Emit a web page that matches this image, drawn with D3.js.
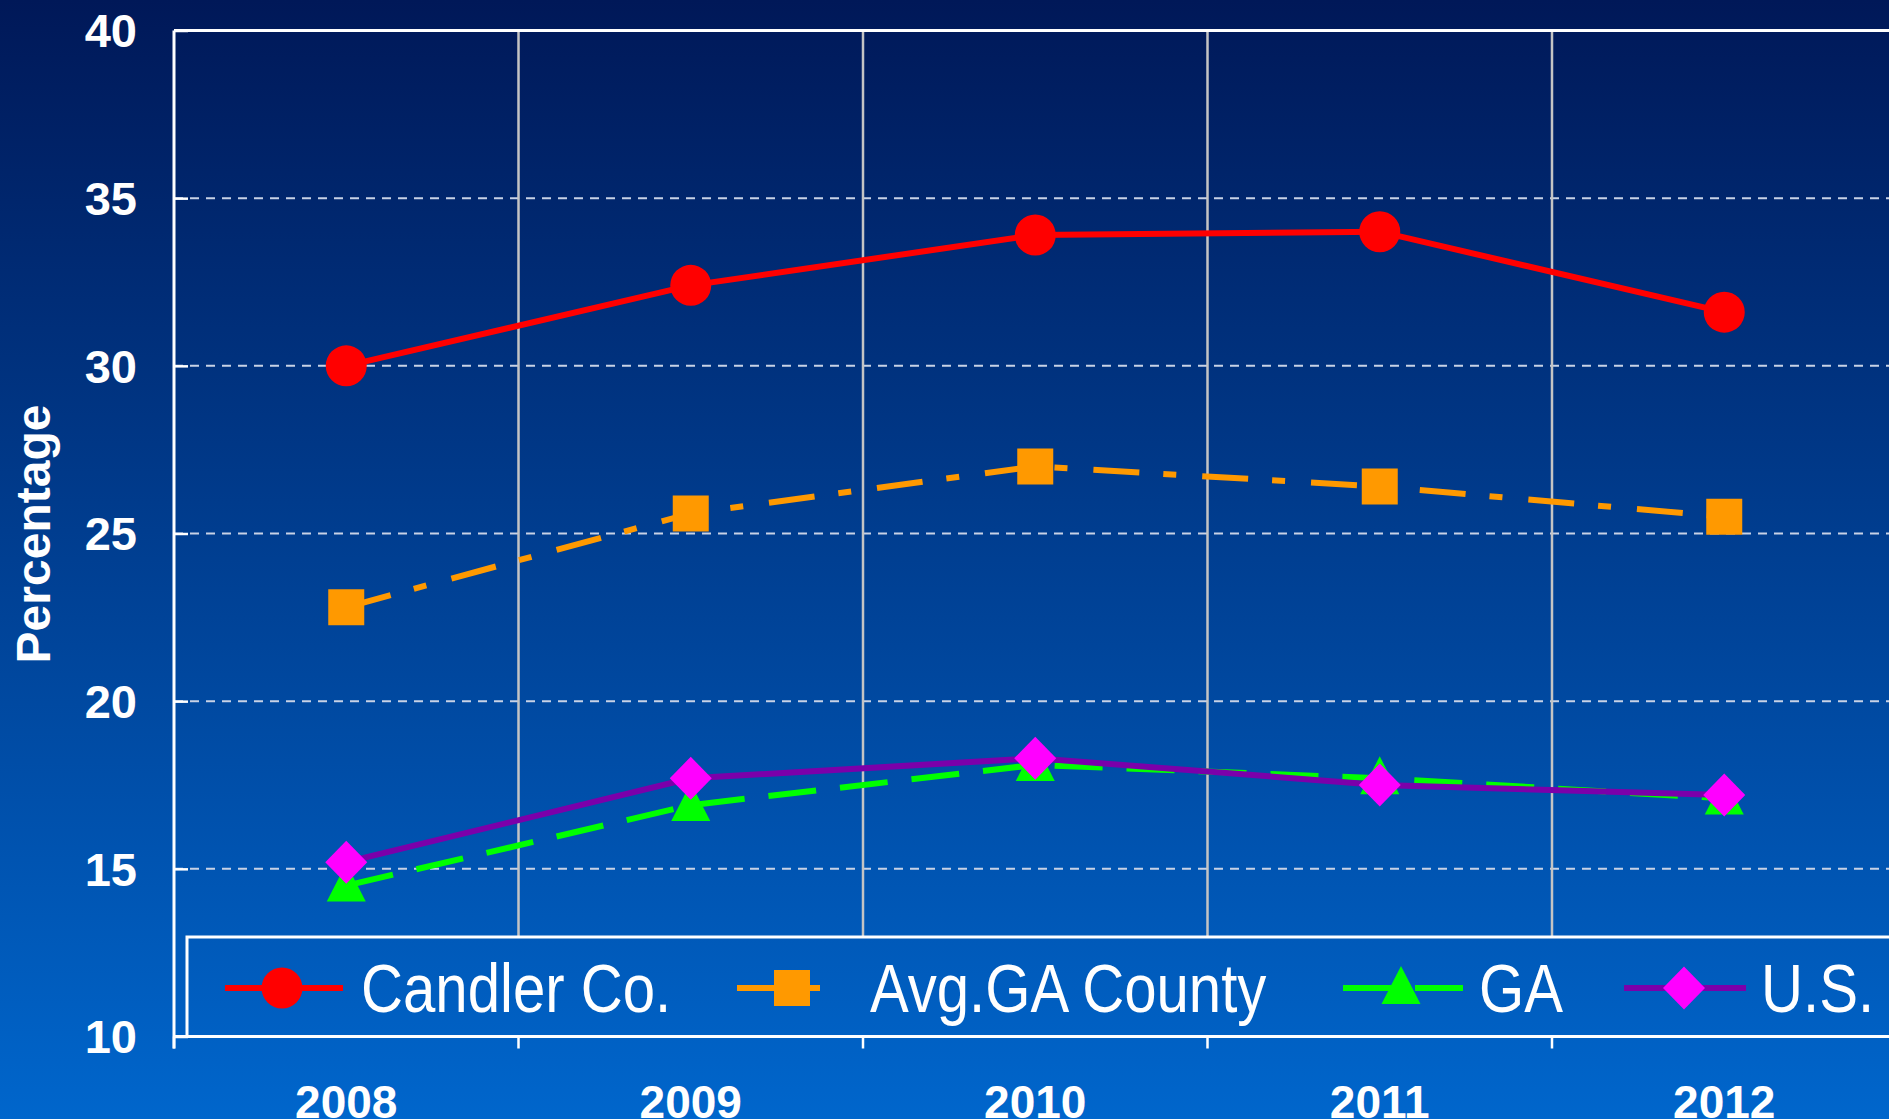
<!DOCTYPE html>
<html>
<head>
<meta charset="utf-8">
<script src="https://cdn.jsdelivr.net/npm/d3@7"></script>
<style>
  html, body { margin: 0; padding: 0; background: #0050a8; }
  svg { display: block; }
  .tick-label { font-family: "Liberation Sans", Arial, sans-serif; font-weight: bold; fill: #fff; }
  .legend-label { font-family: "Liberation Sans Narrow", "Arial Narrow", "Liberation Sans", sans-serif; fill: #fff; }
</style>
</head>
<body>
<div id="chart"></div>
<script>
// data
var years = ["2008", "2009", "2010", "2011", "2012"];
var candler = [30.0, 32.4, 33.9, 34.0, 31.6];
var avgCounty = [22.8, 25.6, 27.0, 26.4, 25.5];
var georgia = [14.5, 16.9, 18.1, 17.7, 17.1];
var usa = [15.2, 17.7, 18.3, 17.5, 17.2];
var yTicks = [10, 15, 20, 25, 30, 35, 40];
var seriesNames = ["Candler Co.", "Avg.GA County", "GA", "U.S."];

var width = 1889, height = 1119;
var plotLeft = 174, plotTop = 30.5, plotBottom = 1036.5, bandW = 344.5;

var series = [
  {name: seriesNames[0], values: candler,   line: "#ff0000", fill: "#ff0000", dash: null,          shape: "circle",   lx: [225, 343], mx: 282, tx: 361},
  {name: seriesNames[1], values: avgCounty, line: "#ff9900", fill: "#ff9900", dash: "46,24,13,26", shape: "square",   lx: [737, 826], mx: 792, tx: 870},
  {name: seriesNames[2], values: georgia,   line: "#00ff00", fill: "#00ff00", dash: "48,24",       shape: "triangle", lx: [1343, 1463], mx: 1401, tx: 1479},
  {name: seriesNames[3], values: usa,       line: "#7b00aa", fill: "#ff00ff", dash: null,          shape: "diamond",  lx: [1624, 1746], mx: 1684, tx: 1761}
];

var x = d3.scaleBand().domain(years).range([plotLeft, plotLeft + bandW * years.length]).padding(0);
var y = d3.scaleLinear().domain([10, 40]).range([plotBottom, plotTop]);
var cx = function(d) { return x(d) + x.bandwidth() / 2; };

var svg = d3.select("#chart").append("svg")
    .attr("width", width)
    .attr("height", height);

var defs = svg.append("defs");
var grad = defs.append("linearGradient")
    .attr("id", "bg")
    .attr("gradientUnits", "userSpaceOnUse")
    .attr("x1", 0).attr("y1", 0).attr("x2", 0).attr("y2", height);
grad.append("stop").attr("offset", "0").attr("stop-color", "#001858");
grad.append("stop").attr("offset", "1").attr("stop-color", "#0066cc");

svg.append("rect")
    .attr("width", width).attr("height", height)
    .attr("fill", "url(#bg)");

// marker shapes
function shapePath(shape) {
  if (shape === "square") return "M-18,-18H18V18H-18Z";
  if (shape === "triangle") return "M0,-22L19.5,16H-19.5Z";
  if (shape === "diamond") return "M0,-21.5L21,0L0,21.5L-21,0Z";
  return d3.arc()({innerRadius: 0, outerRadius: 20.5, startAngle: 0, endAngle: 2 * Math.PI});
}

// horizontal dashed gridlines
svg.append("g")
  .selectAll("line")
  .data(yTicks.filter(function(t) { return t > 10 && t < 40; }))
  .enter().append("line")
    .attr("x1", plotLeft).attr("x2", width)
    .attr("y1", function(d) { return y(d); })
    .attr("y2", function(d) { return y(d); })
    .attr("stroke", "#c8d2e6")
    .attr("stroke-width", 2)
    .attr("stroke-dasharray", "9,7");

// vertical gridlines between the years
var bounds = years.slice(1).map(function(d) { return x(d); });
svg.append("g")
  .selectAll("line")
  .data(bounds)
  .enter().append("line")
    .attr("x1", function(d) { return d; })
    .attr("x2", function(d) { return d; })
    .attr("y1", plotTop).attr("y2", plotBottom)
    .attr("stroke", "#c4c4c4")
    .attr("stroke-width", 2.5);

// y axis
var yAxis = svg.append("g")
    .attr("transform", "translate(" + plotLeft + ",0)")
    .call(d3.axisRight(y).tickValues(yTicks).tickSize(14).tickFormat(""));
yAxis.select(".domain").remove();
yAxis.selectAll("line").attr("stroke", "#fff").attr("stroke-width", 2.5);

svg.append("g")
  .selectAll("text")
  .data(yTicks)
  .enter().append("text")
    .attr("class", "tick-label")
    .attr("x", 137)
    .attr("y", function(d) { return y(d); })
    .attr("dy", "0.36em")
    .attr("text-anchor", "end")
    .attr("font-size", 47)
    .text(function(d) { return d; });

// x axis ticks at band edges
var xTicks = [plotLeft].concat(bounds);
svg.append("g")
  .selectAll("line")
  .data(xTicks)
  .enter().append("line")
    .attr("x1", function(d) { return d; })
    .attr("x2", function(d) { return d; })
    .attr("y1", plotBottom).attr("y2", plotBottom + 12)
    .attr("stroke", "#fff")
    .attr("stroke-width", 2.5);

svg.append("g")
  .selectAll("text")
  .data(years)
  .enter().append("text")
    .attr("class", "tick-label")
    .attr("x", cx)
    .attr("y", 1118)
    .attr("text-anchor", "middle")
    .attr("font-size", 46)
    .text(function(d) { return d; });

// frame lines
svg.append("line").attr("x1", plotLeft).attr("x2", plotLeft).attr("y1", plotTop).attr("y2", plotBottom + 12)
    .attr("stroke", "#fff").attr("stroke-width", 3);
svg.append("line").attr("x1", plotLeft).attr("x2", width).attr("y1", plotTop).attr("y2", plotTop)
    .attr("stroke", "#fff").attr("stroke-width", 3);
svg.append("line").attr("x1", plotLeft).attr("x2", width).attr("y1", plotBottom).attr("y2", plotBottom)
    .attr("stroke", "#fff").attr("stroke-width", 3);

// y title
svg.append("text")
    .attr("class", "tick-label")
    .attr("transform", "translate(50,534) rotate(-90)")
    .attr("text-anchor", "middle")
    .attr("font-size", 48)
    .text("Percentage");

// legend box
var legend = svg.append("g");
legend.append("rect")
    .attr("x", 187).attr("y", 937)
    .attr("width", width).attr("height", plotBottom - 937)
    .attr("fill", "url(#bg)")
    .attr("stroke", "#fff")
    .attr("stroke-width", 3);

var ly = 988;
var item = legend.selectAll("g.item")
  .data(series)
  .enter().append("g").attr("class", "item");
item.append("line")
    .attr("x1", function(d) { return d.lx[0]; })
    .attr("x2", function(d) { return d.lx[1]; })
    .attr("y1", ly).attr("y2", ly)
    .attr("stroke", function(d) { return d.line; })
    .attr("stroke-width", 6)
    .attr("stroke-dasharray", function(d) { return d.dash; });
item.append("path")
    .attr("d", function(d) { return shapePath(d.shape); })
    .attr("transform", function(d) { return "translate(" + d.mx + "," + ly + ")"; })
    .attr("fill", function(d) { return d.fill; });
// no narrow face installed, so squeeze the regular one
item.append("text")
    .attr("class", "legend-label")
    .attr("transform", function(d) { return "translate(" + d.tx + ",1012) scale(0.855,1)"; })
    .attr("font-size", 68)
    .text(function(d) { return d.name; });

// series lines and markers
var line = d3.line()
    .x(function(d, i) { return cx(years[i]); })
    .y(function(d) { return y(d); });

var sg = svg.append("g").selectAll("g")
  .data(series)
  .enter().append("g");
sg.append("path")
    .attr("d", function(d) { return line(d.values); })
    .attr("fill", "none")
    .attr("stroke", function(d) { return d.line; })
    .attr("stroke-width", 6)
    .attr("stroke-dasharray", function(d) { return d.dash; });
sg.selectAll("path.marker")
  .data(function(d) { return d.values.map(function(v, i) { return {v: v, year: years[i], s: d}; }); })
  .enter().append("path")
    .attr("class", "marker")
    .attr("d", function(d) { return shapePath(d.s.shape); })
    .attr("transform", function(d) { return "translate(" + cx(d.year) + "," + y(d.v) + ")"; })
    .attr("fill", function(d) { return d.s.fill; });
</script>
</body>
</html>
